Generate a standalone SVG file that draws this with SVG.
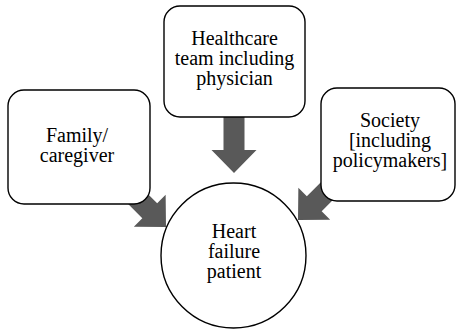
<svg xmlns="http://www.w3.org/2000/svg" xmlns:xlink="http://www.w3.org/1999/xlink" width="457" height="331" viewBox="0 0 457 331">
  <style>
    .box { fill: #ffffff; stroke: #000000; stroke-width: 1.4; }
    .label { font-family: "Liberation Serif", "Times New Roman", serif; font-size: 20px; fill: #000000; text-anchor: middle; }
    .arrow { fill: #595959; stroke: none; }
  </style>
  <defs>
    <!-- block arrow pointing down, tip at the origin -->
    <path id="blockArrow" d="M -10.5 -62 L 10.5 -62 L 10.5 -23 L 22.5 -23 L 0 0 L -22.5 -23 L -10.5 -23 Z"/>
  </defs>
  <rect width="457" height="331" fill="#ffffff"/>

  <g id="connectors">
    <use xlink:href="#blockArrow" class="arrow" transform="translate(234,173)"/>
    <use xlink:href="#blockArrow" class="arrow" transform="translate(166,227) rotate(-45)"/>
    <use xlink:href="#blockArrow" class="arrow" transform="translate(298,220) rotate(45)"/>
  </g>

  <g id="family">
    <rect class="box" x="8" y="90" width="142" height="114" rx="16" ry="16"/>
    <text class="label" x="77" y="142">Family/</text>
    <text class="label" x="77" y="162">caregiver</text>
  </g>

  <g id="healthcare">
    <rect class="box" x="164" y="6" width="141" height="111" rx="16" ry="16"/>
    <text class="label" x="234.5" y="45">Healthcare</text>
    <text class="label" x="234.5" y="65">team including</text>
    <text class="label" x="234.5" y="85">physician</text>
  </g>

  <g id="society">
    <rect class="box" x="321" y="88" width="134" height="113" rx="16" ry="16"/>
    <text class="label" x="390" y="127">Society</text>
    <text class="label" x="390" y="147">[including</text>
    <text class="label" x="390" y="167">policymakers]</text>
  </g>

  <g id="patient">
    <circle class="box" cx="233.5" cy="255.5" r="72.5"/>
    <text class="label" x="234" y="238">Heart</text>
    <text class="label" x="234" y="258">failure</text>
    <text class="label" x="234" y="278">patient</text>
  </g>
</svg>
